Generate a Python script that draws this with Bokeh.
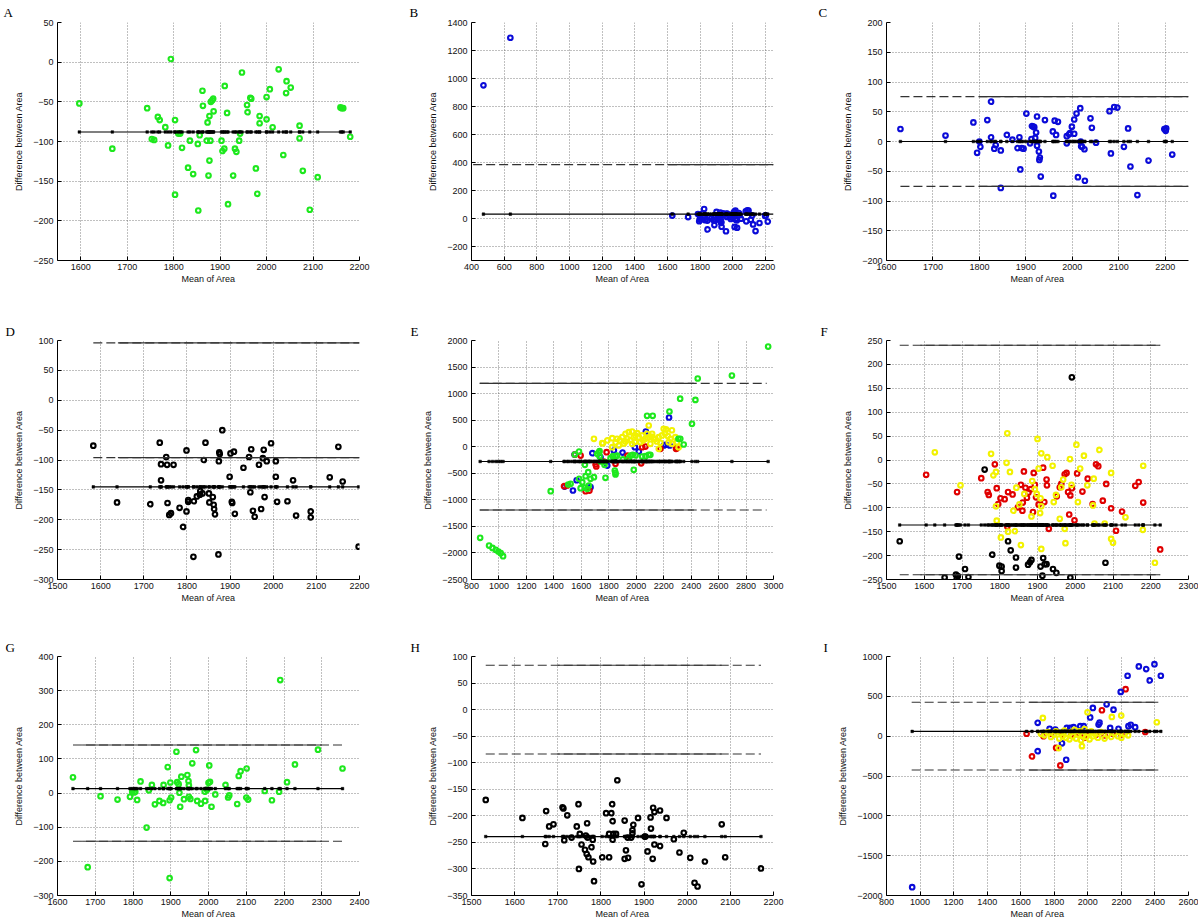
from bokeh.plotting import figure
from bokeh.layouts import column, row
from bokeh.models import Range1d, FixedTicker
from bokeh.embed import file_html
from bokeh.resources import INLINE

# ---------------- data ----------------
A_x = [1597,1668,1743,1753,1758,1766,1770,1782,1788,1794,1803,1803,1810,1814,1818,1831,1835,1842,1852,1853,
       1856,1862,1863,1871,1873,1875,1877,1877,1879,1880,1883,1885,1886,1903,1905,1909,1910,1915,1917,1928,
       1932,1935,1941,1943,1947,1958,1959,1965,1967,1977,1980,1985,1985,2000,2000,2007,2013,2026,2036,2042,
       2043,2052,2071,2071,2078,2093,2110,2159,2162,2165,2180]
A_y = [-52,-109,-58,-97,-98,-69,-73,-82,-105,4,-73,-167,-90,-90,-108,-133,-99,-141,-103,-187,
       -92,-36,-55,-99,-76,-143,-68,-124,-99,-50,-48,-46,-62,-99,-112,-109,-30,-64,-179,-143,
       -109,-113,-99,-90,-13,-54,-63,-45,-46,-134,-166,-68,-77,-72,-44,-34,-82,-9,-117,-39,
       -24,-32,-80,-96,-137,-186,-145,-57,-58,-58,-94]

C_x = [1630,1727,1787,1795,1800,1802,1817,1825,1825,1832,1835,1846,1846,1859,1871,1882,1886,1888,1891,1895,
       1901,1909,1912,1913,1916,1918,1920,1922,1924,1924,1928,1929,1930,1932,1941,1958,1959,1962,1965,1969,
       1988,1988,1993,1995,1999,2004,2004,2009,2012,2017,2018,2019,2021,2026,2027,2039,2042,2051,2080,2083,
       2090,2097,2111,2120,2125,2140,2164,2198,2201,2202,2215]
C_y = [21,10,32,-19,0,-9,36,67,7,-12,-6,-78,-15,11,3,-11,7,-47,-11,-12,
       47,-3,4,26,25,24,6,15,42,-7,-17,-31,-27,-59,36,17,-91,35,11,33,
       -3,9,12,14,25,13,37,47,-60,56,0,-8,-9,-13,-66,39,23,-2,51,-20,
       58,57,-9,22,-42,-90,-32,21,18,22,-22]

B_out_x = [473, 638]
B_out_y = [951, 1291]
B_x = B_out_x + C_x
B_y = B_out_y + C_y

D_x = [1583,1638,1737,1740,1740,1752,1754,1755,1759,1763,1769,1715,1783,1791,1799,1799,1803,1803,1815,1816,
       1823,1830,1831,1836,1843,1851,1852,1860,1862,1863,1865,1839,1873,1874,1875,1876,1882,1899,1901,1904,
       1905,1909,1911,1931,1944,1947,1949,1953,1957,1967,1972,1976,1978,1980,1985,1995,2006,2006,2009,2033,
       2046,2053,2087,2087,2131,2151,2161,2198]
D_y = [-76,-171,-71,-107,-134,-95,-108,-172,-192,-189,-108,-174,-180,-212,-84,-186,-167,-170,-262,-169,
       -161,-158,-152,-156,-71,-156,-171,-162,-175,-182,-191,-100,-258,-102,-87,-90,-50,-128,-89,-170,
       -172,-86,-190,-113,-95,-154,-82,-185,-195,-108,-182,-97,-83,-162,-102,-72,-102,-128,-170,-169,
       -134,-193,-186,-196,-129,-78,-136,-245]

E_green_x = [863,928,953,977,996,1013,1030,1377,1505,1522,1583,1553,1583,1595,1607,1626,1631,1643,1650,1655,
             1667,1692,1716,1728,1733,1740,1764,1769,1776,1813,1830,1844,1849,1849,1849,1861,1902,1946,1958,1975,
             1982,1995,2043,2067,2091,2103,2079,2120,2242,2307,2321,2346,2320,2406,2431,2448,2697,2961,1626,1733]
E_green_y = [-1716,-1861,-1905,-1942,-1973,-2004,-2060,-837,-711,-698,-90,-146,-604,-780,-667,-768,-554,-793,-479,-730,
             -604,-573,-134,-102,-178,-278,-290,-341,-585,-215,-178,-448,-491,-184,-523,-165,-240,-215,-165,-152,
             -435,-165,-184,-178,-153,-152,582,582,663,148,149,42,905,431,882,1284,1340,1886,-341,-84]
E_blue_x = [1478,1539,1551,1566,1667,1680,1740,1789,1837,1837,1900,1990,2019,2070,2200,2213,2239,2244]
E_blue_y = [-750,-824,-146,-631,-761,-121,-200,-355,-71,-231,-110,-8,-90,287,23,36,550,23]
E_red_x = [1474,1498,1553,1595,1631,1659,1704,1709,1764,1784,1849,1936,2036,2043,2067,2176,2290,2295]
E_red_y = [-743,-730,-146,-166,-837,-826,-335,-372,-278,-102,-322,-166,-312,-8,2,-39,-39,-28]
E_yellow_x = [1692,1752,1757,1789,1825,1825,1873,1898,1922,1922,1934,1946,1970,1970,1982,2007,2019,2031,2043,2067,
              2079,2091,2103,2116,2128,2140,2164,2164,2176,2188,2200,2217,2237,2249,2261,2285,2297,2309,1850,1880,
              1910,1960,1995,2050,2085,2150,2210,2230,1860,1990,2110,2260]
E_yellow_y = [149,67,65,118,161,-8,23,180,243,99,149,274,287,55,180,256,180,86,212,149,
              243,400,55,243,149,149,180,-39,74,212,337,325,86,149,55,180,86,-8,80,120,
              60,120,210,120,170,100,250,200,150,90,190,310]

F_black_x = [1535,1760,1692,1684,1689,1686,1654,1708,1717,1780,1799,1805,1805,1822,1829,1843,1843,1875,1880,1884,
             1908,1915,1919,1924,1913,1941,1950,1987,1991,2080]
F_black_y = [-170,-20,-202,-240,-243,-249,-246,-228,-245,-198,-221,-223,-232,-170,-189,-204,-225,-219,-214,-209,
             -223,-205,-218,-218,-242,-228,-236,-246,173,-215]
F_red_x = [1605,1687,1751,1768,1771,1787,1792,1796,1802,1813,1820,1822,1834,1848,1856,1861,1860,1864,1868,1872,
           1876,1882,1888,1890,1893,1896,1903,1915,1918,1924,1925,1930,1951,1959,1963,1972,1977,1981,1984,1987,
           1991,1998,2005,2019,2033,2046,2055,2061,2082,2073,2095,2108,2124,2159,2168,2180,2225]
F_red_y = [-31,-67,-38,-67,-73,-9,-59,-92,-80,-82,-139,-67,-72,-99,-52,-89,-106,-24,-58,-79,
           -68,-61,-109,-27,-52,-78,-93,-16,-88,-41,-53,-144,-76,-57,-50,-30,-27,-67,-114,-74,
           -59,-126,-28,-66,-39,-92,-9,-13,-50,-85,-101,-148,-108,-54,-46,-89,-187]
F_yellow_x = [1628,1696,1777,1783,1790,1790,1792,1803,1818,1820,1827,1822,1836,1840,1844,1852,1856,1865,1884,1886,
              1893,1898,1900,1903,1907,1910,1908,1910,1910,1926,1940,1943,1949,1959,1963,1968,1972,1974,1986,1990,
              2003,2007,2013,2023,2032,2047,2049,2051,2064,2078,2095,2095,2100,2133,2179,2180,2211]
F_yellow_y = [16,-53,13,-32,-25,-97,-127,-162,-6,56,-25,-150,-106,-149,-58,-93,-178,-71,-118,-44,
              -61,-71,44,-18,-111,14,-80,-97,-186,6,-12,-88,-73,-123,-57,-41,-144,-174,2,-52,
              32,-88,-18,9,-53,-95,-39,-133,21,-133,-27,-165,-173,-120,-146,-12,-215]

G_x = [1641,1680,1714,1759,1792,1798,1803,1806,1811,1820,1836,1842,1850,1858,1870,1880,1881,1892,1897,1897,
       1899,1901,1915,1917,1921,1923,1925,1928,1935,1944,1947,1948,1948,1952,1967,1957,1970,1980,1990,1991,
       1996,2000,2002,2004,2008,2018,2045,2052,2055,2076,2080,2085,2100,2101,2105,2149,2168,2187,2190,2208,
       2229,2290,2355]
G_y = [46,-217,-9,-19,-11,4,2,4,-20,34,-101,8,24,-33,-23,-29,24,76,-21,-249,
       31,-13,121,32,26,1,-40,48,-18,53,35,23,-11,-17,126,87,-23,-31,4,-23,
       10,30,81,33,-40,-4,24,-13,-7,-32,50,64,-13,72,-19,6,-21,4,331,32,
       84,127,72]

H_x = [1533,1618,1671,1673,1680,1690,1711,1713,1715,1722,1732,1744,1748,1749,1751,1755,1763,1765,1767,1768,
       1769,1771,1778,1781,1782,1784,1803,1812,1819,1819,1824,1826,1827,1827,1829,1835,1838,1855,1855,1858,
       1862,1863,1870,1873,1873,1875,1886,1894,1901,1903,1908,1915,1916,1920,1921,1924,1924,1937,1937,1952,
       1969,1982,1992,2007,2017,2024,2041,2080,2088,2171]
H_y = [-170,-204,-253,-191,-220,-216,-184,-186,-246,-199,-241,-220,-178,-300,-234,-254,-264,-237,-272,-214,
       -241,-278,-259,-245,-286,-323,-278,-195,-234,-278,-195,-178,-210,-245,-234,-234,-133,-209,-281,-265,
       -241,-279,-241,-227,-233,-217,-204,-329,-239,-239,-267,-203,-224,-281,-185,-193,-254,-190,-257,-204,
       -244,-269,-232,-279,-326,-333,-286,-216,-278,-299]

I_blue_x = [953,1701,1701,1772,1806,1846,1871,1875,1895,1915,1955,1975,2014,2030,2064,2070,2112,2133,2153,2183,
            2196,2237,2242,2256,2282,2304,2348,2369,2397,2435]
I_blue_y = [-1896,167,-188,92,83,-90,-296,104,104,113,125,125,235,354,146,170,400,104,333,92,
            556,758,125,142,113,875,842,700,904,758]
I_red_x = [1635,1667,1736,1811,1836,1850,1900,1950,2000,2050,2084,2100,2150,2200,2225,2342,1780,1980]
I_red_y = [31,-254,0,-146,-367,20,10,25,15,20,325,10,30,20,590,52,30,-20]
I_yellow_x = [1732,1826,1965,1998,2143,2199,2411,1720,1740,1760,1780,1800,1810,1830,1840,1850,1860,1870,1880,1890,
              1900,1910,1920,1930,1940,1950,1960,1970,1980,1990,2000,2010,2020,2030,2040,2060,2080,2100,2120,2140,
              2160,2180,2200,2220,2240]
I_yellow_y = [229,-150,-125,300,242,258,175,30,10,50,-10,20,60,-30,40,0,70,-20,30,-40,
              50,0,80,-30,20,60,-50,10,90,-10,40,-40,60,0,30,-20,50,-30,20,-10,
              40,0,-20,30,10]

# mean difference and +/- limit of each panel
MEANS = [-88, 31, 0, -145, -278, -136, 13, -239, 60]
LIMITS = [None, 385, 75.5, 96, 1192, 240, 141, 83.5, 425]
MEAN_SPAN = [[1597, 2180], [473, 2250], [1630, 2250], [1583, 2200], [860, 2960],
             [1535, 2228], [1641, 2357], [1533, 2171], [950, 2440]]
LIM_SPAN = [None, [410, 2250], [1630, 2250], [1583, 2200], [860, 2950],
            [1535, 2225], [1641, 2357], [1533, 2171], [950, 2420]]
LIM_SOLID = [None, [1600, 2250], [1800, 2250], [1640, 2200], [860, 2420],
             [1590, 2225], [1665, 2300], [1700, 2080], [1650, 2420]]

X_RANGES = [(1550, 2200), (400, 2250), (1600, 2250), (1500, 2200), (800, 3000),
            (1500, 2300), (1600, 2400), (1500, 2200), (800, 2600)]
Y_RANGES = [(-250, 50), (-300, 1400), (-200, 200), (-300, 100), (-2500, 2000),
            (-250, 250), (-300, 400), (-350, 100), (-2000, 1000)]
X_TICKS = [list(range(1600, 2201, 100)), list(range(400, 2201, 200)), list(range(1600, 2201, 100)),
           list(range(1500, 2201, 100)), list(range(800, 3001, 200)), list(range(1500, 2301, 100)),
           list(range(1600, 2401, 100)), list(range(1500, 2201, 100)), list(range(800, 2601, 200))]
Y_TICKS = [list(range(-250, 51, 50)), list(range(-200, 1401, 200)), list(range(-200, 201, 50)),
           list(range(-300, 101, 50)), list(range(-2500, 2001, 500)), list(range(-250, 251, 50)),
           list(range(-300, 401, 100)), list(range(-350, 101, 50)), list(range(-2000, 1001, 500))]
LETTERS = ["A", "B", "C", "D", "E", "F", "G", "H", "I"]

GREEN = "#1ee81e"
BLUE = "#0b0bd8"
RED = "#e00000"
YELLOW = "#f2f200"
BLACK = "#000000"

SERIES = [
    [(A_x, A_y, GREEN)],
    [(B_x, B_y, BLUE)],
    [(C_x, C_y, BLUE)],
    [(D_x, D_y, BLACK)],
    [(E_blue_x, E_blue_y, BLUE), (E_red_x, E_red_y, RED), (E_yellow_x, E_yellow_y, YELLOW),
     (E_green_x, E_green_y, GREEN)],
    [(F_black_x, F_black_y, BLACK), (F_red_x, F_red_y, RED), (F_yellow_x, F_yellow_y, YELLOW)],
    [(G_x, G_y, GREEN)],
    [(H_x, H_y, BLACK)],
    [(I_red_x, I_red_y, RED), (I_blue_x, I_blue_y, BLUE), (I_yellow_x, I_yellow_y, YELLOW)],
]

# ---------------- layout / style ----------------
FW = 302
COLS = [(57, 41), (71, 27), (86, 10)]                  # left, right border
ROWS = [(21, 59, 238), (20, 56, 239), (20, 24, 239)]   # top, bottom border, frame height
TITLE_STANDOFF = [5, 4, 4]
LETTER_DX = [-54, -62, -68, -52, -61, -66, -52, -61, -63]
FONT = "Liberation Sans"


def make_panel(i):
    r, c = divmod(i, 3)
    bl, br = COLS[c]
    bt, bb, fh = ROWS[r]
    x0, x1 = X_RANGES[i]
    y0, y1 = Y_RANGES[i]
    p = figure(frame_width=FW, frame_height=fh,
               x_range=Range1d(x0, x1), y_range=Range1d(y0, y1),
               output_backend="svg", toolbar_location=None,
               min_border_left=bl, min_border_right=br,
               min_border_top=bt, min_border_bottom=bb,
               outline_line_color=None, background_fill_color="white",
               border_fill_color="white")
    # panel letter
    p.title.text = LETTERS[i]
    p.title.align = "left"
    p.title.offset = LETTER_DX[i]
    p.title.standoff = TITLE_STANDOFF[r]
    p.title.text_font = "Liberation Serif"
    p.title.text_font_size = "13px"
    p.title.text_font_style = "normal"
    p.title.text_color = "black"

    p.xaxis.ticker = FixedTicker(ticks=X_TICKS[i])
    p.yaxis.ticker = FixedTicker(ticks=Y_TICKS[i])
    for ax in (p.xaxis[0], p.yaxis[0]):
        ax.axis_line_color = "black"
        ax.axis_line_width = 1
        ax.major_tick_in = 4
        ax.major_tick_out = 0
        ax.minor_tick_line_color = None
        ax.major_tick_line_color = "black"
        ax.major_label_text_font = FONT
        ax.major_label_text_font_size = "9px"
        ax.major_label_text_color = "#111111"
        ax.axis_label_text_font = FONT
        ax.axis_label_text_font_size = "9px"
        ax.axis_label_text_font_style = "normal"
        ax.axis_label_text_color = "#111111"
    p.xaxis.axis_label = "Mean of Area"
    p.yaxis.axis_label = "Difference between Area"
    p.xaxis.major_label_standoff = 3
    p.xaxis.axis_label_standoff = 1
    p.yaxis.major_label_standoff = 4
    p.yaxis.axis_label_standoff = 6
    for g in (p.xgrid[0], p.ygrid[0]):
        g.grid_line_color = "#555555"
        g.grid_line_alpha = 0.75
        g.grid_line_dash = "1 2"
        g.grid_line_width = 1

    all_x = []
    for xs, ys, col in SERIES[i]:
        p.scatter(xs, ys, marker="circle", size=4.6, fill_color=None,
                  line_color=col, line_width=2.1)
        all_x += xs

    m = MEANS[i]
    p.line(MEAN_SPAN[i], [m, m], line_color="black", line_width=1.2)
    p.scatter(all_x, [m] * len(all_x), marker="square", size=2.6,
              fill_color="black", line_color="black", line_width=0.5)

    L = LIMITS[i]
    if L is not None:
        for s in (1, -1):
            p.line(LIM_SPAN[i], [s * L, s * L], line_color="#333333",
                   line_width=1.1, line_dash="9 4")
            p.line(LIM_SOLID[i], [s * L, s * L], line_color="#333333",
                   line_width=1.1)
    return p


panels = [make_panel(i) for i in range(9)]
layout = column(row(*panels[0:3]), row(*panels[3:6]), row(*panels[6:9]))

open("out.html", "w").write(file_html(layout, INLINE))
